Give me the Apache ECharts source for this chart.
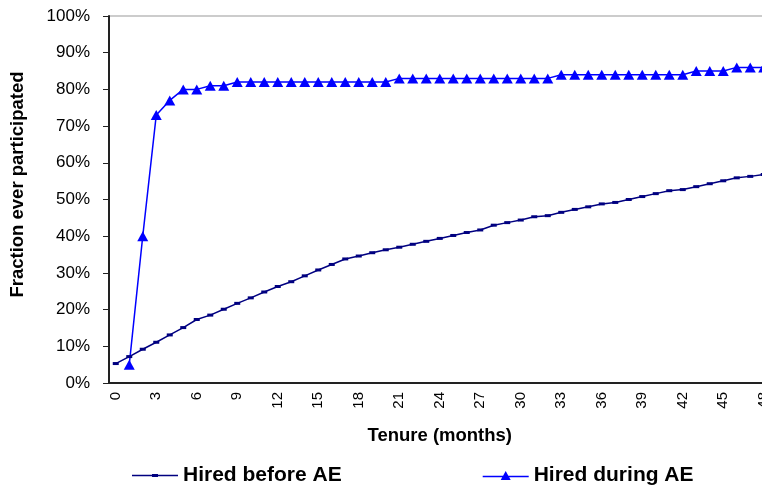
<!DOCTYPE html>
<html>
<head>
<meta charset="utf-8">
<script src="https://cdn.jsdelivr.net/npm/echarts@6/dist/echarts.min.js"></script>
<style>
  html, body { margin: 0; padding: 0; background: #fff; }
  #chart { width: 762px; height: 490px; }
</style>
</head>
<body>
<div id="chart"></div>
<script>
// Tenure in months, 0..48
const months = Array.from({ length: 49 }, (_, i) => String(i));

// Fraction ever participated (%)
const hiredBefore = [
  5.3, 7.2, 9.2, 11.1, 13.1, 15.1, 17.3, 18.5, 20.1, 21.7,
  23.2, 24.8, 26.3, 27.6, 29.2, 30.8, 32.3, 33.8, 34.6, 35.5,
  36.3, 37.0, 37.8, 38.6, 39.4, 40.2, 41.0, 41.7, 43.0, 43.7,
  44.4, 45.3, 45.6, 46.5, 47.3, 48.0, 48.8, 49.2, 50.0, 50.8,
  51.6, 52.4, 52.7, 53.5, 54.3, 55.1, 55.9, 56.3, 56.8
];

const hiredDuring = [
  null, 5, 40, 73, 77, 80, 80, 81, 81, 82,
  82, 82, 82, 82, 82, 82, 82, 82, 82, 82,
  82, 83, 83, 83, 83, 83, 83, 83, 83, 83,
  83, 83, 83, 84, 84, 84, 84, 84, 84, 84,
  84, 84, 84, 85, 85, 85, 86, 86, 86
];

const chart = echarts.init(document.getElementById('chart'));

const FONT = '"Liberation Sans", Arial, sans-serif';

// legend icons: line with a small dash / a triangle on it
const ICON_BEFORE = 'path://M0,0.75 L46,0.75 L46,2.25 L0,2.25 Z M20,0 L26,0 L26,3 L20,3 Z';
const ICON_DURING = 'path://M0,4.75 L46,4.75 L46,6.25 L0,6.25 Z M23,0 L28,9 L18,9 Z';

const option = {
  animation: false,
  backgroundColor: '#fff',
  textStyle: { fontFamily: FONT, color: '#000' },
  grid: {
    left: 109,
    top: 16,
    width: 661.5,
    height: 367,
    outerBoundsMode: 'none',
    containLabel: false,
    show: true,
    borderColor: '#999',
    borderWidth: 1,
    backgroundColor: 'transparent'
  },
  legend: {
    left: 132,
    top: 465,
    padding: 0,
    itemWidth: 46,
    itemHeight: 12,
    itemGap: 141,
    symbolKeepAspect: true,
    textStyle: { fontFamily: FONT, fontSize: 21, fontWeight: 'bold', color: '#000' },
    data: [
      { name: 'Hired before AE', icon: ICON_BEFORE },
      { name: 'Hired during AE', icon: ICON_DURING }
    ]
  },
  xAxis: {
    type: 'category',
    data: months,
    boundaryGap: true,
    name: 'Tenure (months)',
    nameLocation: 'middle',
    nameGap: 43,
    nameTextStyle: { fontFamily: FONT, fontSize: 18.5, fontWeight: 'bold', color: '#000' },
    axisLine: { lineStyle: { color: '#222', width: 2 } },
    axisTick: { interval: 0, length: 6, lineStyle: { color: '#222', width: 1 } },
    axisLabel: {
      interval: 2,
      rotate: 90,
      margin: 9,
      fontSize: 15,
      color: '#000'
    },
    splitLine: { show: false }
  },
  yAxis: {
    type: 'value',
    min: 0,
    max: 100,
    interval: 10,
    name: 'Fraction ever participated',
    nameLocation: 'middle',
    nameGap: 82,
    nameTextStyle: {
      fontFamily: FONT,
      fontSize: 18.5,
      fontWeight: 'bold',
      color: '#000',
      padding: [0, 0, 0, 30]
    },
    axisLine: { show: true, lineStyle: { color: '#222', width: 2 } },
    axisTick: { show: true, length: 6, lineStyle: { color: '#222', width: 1 } },
    axisLabel: {
      formatter: '{value}%',
      margin: 19,
      fontSize: 17,
      color: '#000'
    },
    splitLine: { show: false }
  },
  series: [
    {
      name: 'Hired before AE',
      type: 'line',
      data: hiredBefore,
      symbol: 'rect',
      symbolSize: [6, 3],
      showAllSymbol: true,
      lineStyle: { color: '#000080', width: 1.5 },
      itemStyle: { color: '#000080' }
    },
    {
      name: 'Hired during AE',
      type: 'line',
      data: hiredDuring,
      symbol: 'triangle',
      symbolSize: [11, 10],
      showAllSymbol: true,
      lineStyle: { color: '#0000ff', width: 1.5 },
      itemStyle: { color: '#0000ff' }
    }
  ]
};

chart.setOption(option);
</script>
</body>
</html>
